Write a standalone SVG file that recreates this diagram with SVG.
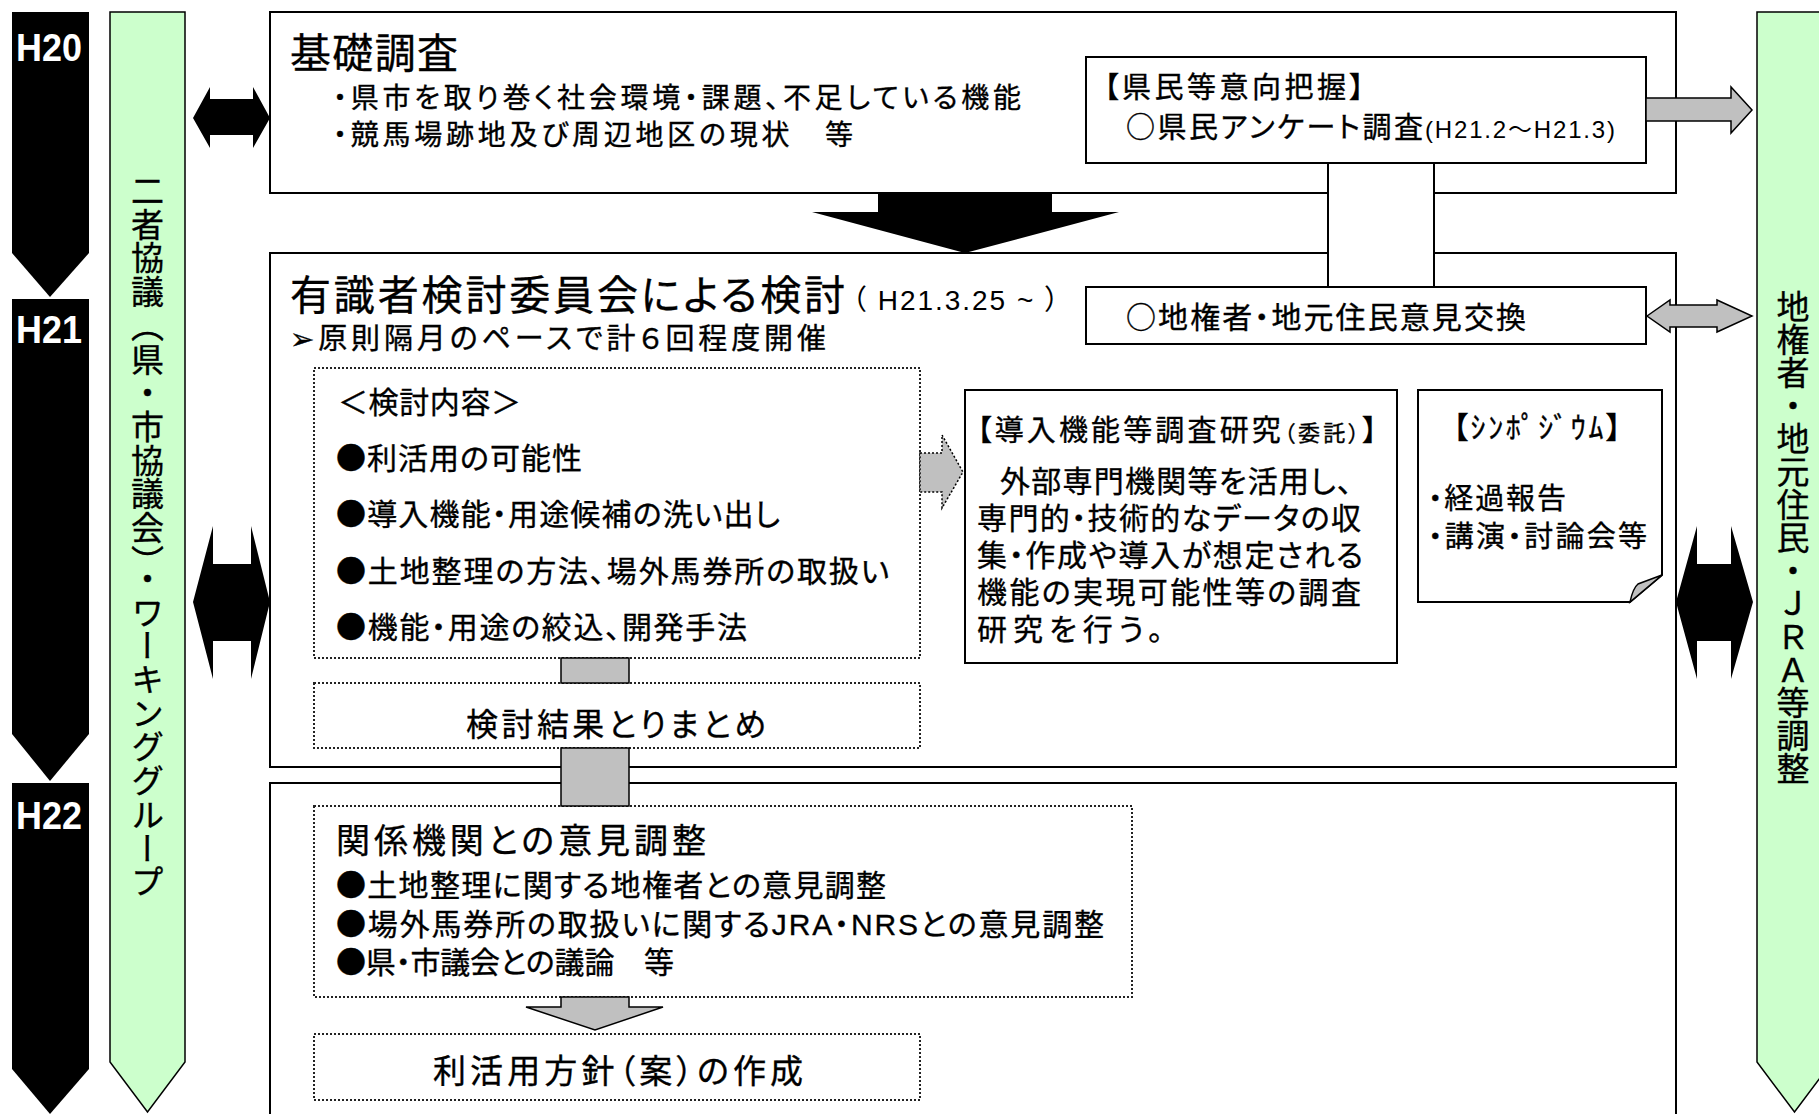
<svg xmlns="http://www.w3.org/2000/svg" width="1819" height="1114" viewBox="0 0 1819 1114">
<style>
.jp{font-family:"Noto Sans CJK JP","DejaVu Sans",sans-serif;fill:#000;stroke:#000;stroke-width:0.35;font-feature-settings:"palt" 1}
.lat{font-family:"Liberation Sans",Arial,"Noto Sans CJK JP",sans-serif;fill:#000;font-feature-settings:"palt" 1}
.box{fill:#fff;stroke:#000;stroke-width:2}
.dot{fill:#fff;stroke:#222;stroke-width:2;stroke-dasharray:2 2}
.blk{fill:#000;stroke:none}
.gry{fill:#c0c0c0;stroke:#000;stroke-width:1.5}
.grn{fill:#ccffcc;stroke:#000;stroke-width:1.5}
.yr{font-family:"Liberation Sans",Arial,sans-serif;font-weight:bold;fill:#fff;font-size:38px}
.vt{font-family:"Noto Sans CJK JP",sans-serif;fill:#000;stroke:#000;stroke-width:0.35;writing-mode:vertical-rl;text-orientation:mixed}
</style>
<rect width="1819" height="1114" fill="#fff"/>

<g id="year-bars">
  <polygon class="blk" points="12,12 89,12 89,253 50,297 12,253"/>
  <polygon class="blk" points="12,299 89,299 89,734 50,781 12,734"/>
  <polygon class="blk" points="12,783 89,783 89,1069 50,1114 12,1069"/>
  <text class="yr" x="16" y="61" textLength="66" lengthAdjust="spacingAndGlyphs">H20</text>
  <text class="yr" x="16" y="343" textLength="66" lengthAdjust="spacingAndGlyphs">H21</text>
  <text class="yr" x="16" y="829" textLength="66" lengthAdjust="spacingAndGlyphs">H22</text>
</g>

<g id="left-band">
  <polygon class="grn" points="110,12 185,12 185,1062 147.5,1112 110,1062"/>
  <text class="vt" x="147.5" y="174" font-size="33" letter-spacing="0.7">二者協議（県・市協議会）・ワーキンググループ</text>
</g>

<g id="right-band">
  <polygon class="grn" points="1757,12 1832,12 1832,1062 1794.5,1112 1757,1062"/>
  <text class="vt" x="1793" y="290" font-size="33">地権者・地元住民・ＪＲＡ等調整</text>
</g>

<g id="n-kiso">
  <rect class="box" x="270" y="12" width="1406" height="181"/>
  <text class="jp" x="290" y="68" font-size="41" textLength="168">基礎調査</text>
  <text class="jp" x="333" y="108" font-size="28" textLength="688">・県市を取り巻く社会環境・課題、不足している機能</text>
  <text class="jp" x="333" y="145" font-size="28" textLength="520">・競馬場跡地及び周辺地区の現状　等</text>
</g>

<g id="n-iinkai">
  <rect class="box" x="270" y="253" width="1406" height="514"/>
  <text class="jp" x="290" y="310" font-size="41" textLength="555">有識者検討委員会による検討</text>
  <text class="lat" x="852" y="310" font-size="28" textLength="207">（ H21.3.25 ~ ）</text>
  <text class="jp" x="290" y="349" font-size="29" textLength="536">➢原則隔月のペースで計６回程度開催</text>
</g>

<g id="n-chousei">
  <rect class="box" x="270" y="783" width="1406" height="340"/>
</g>

<g id="link-white">
  <rect x="1329" y="164" width="104" height="122" fill="#fff"/>
  <line x1="1328" y1="163" x2="1328" y2="287" stroke="#000" stroke-width="2"/>
  <line x1="1434" y1="163" x2="1434" y2="287" stroke="#000" stroke-width="2"/>
</g>

<g id="n-survey">
  <rect class="box" x="1086" y="57" width="560" height="106"/>
  <text class="jp" x="1104" y="98" font-size="29" textLength="260">【県民等意向把握】</text>
  <text class="jp" x="1126" y="138" font-size="29" textLength="297">○県民アンケート調査</text>
  <text class="lat" x="1425" y="138" font-size="24" textLength="190">(H21.2～H21.3)</text>
</g>

<g id="n-jiken">
  <rect class="box" x="1086" y="287" width="560" height="57"/>
  <text class="jp" x="1126" y="328" font-size="30" textLength="400">○地権者・地元住民意見交換</text>
</g>

<g id="n-naiyou">
  <rect class="dot" x="314" y="368" width="606" height="290"/>
  <g font-size="30">
    <text class="jp" x="338" y="413" textLength="183">＜検討内容＞</text>
    <text class="jp" x="336" y="469" textLength="246">●利活用の可能性</text>
    <text class="jp" x="336" y="525" textLength="444">●導入機能・用途候補の洗い出し</text>
    <text class="jp" x="336" y="582" textLength="553">●土地整理の方法、場外馬券所の取扱い</text>
    <text class="jp" x="336" y="638" textLength="411">●機能・用途の絞込、開発手法</text>
  </g>
</g>

<g id="n-matome">
  <rect class="dot" x="314" y="683" width="606" height="65"/>
  <text class="jp" x="466" y="736" font-size="32" textLength="300">検討結果とりまとめ</text>
</g>

<g id="n-dounyu">
  <rect class="box" x="965" y="390" width="432" height="273" stroke-width="3"/>
  <text class="jp" x="977" y="441" font-size="29" textLength="400">【導入機能等調査研究<tspan font-size="22">（委託）</tspan>】</text>
  <g font-size="30">
    <text class="jp" x="1000" y="492" textLength="352">外部専門機関等を活用し、</text>
    <text class="jp" x="977" y="529" textLength="384">専門的・技術的なデータの収</text>
    <text class="jp" x="977" y="566" textLength="386">集・作成や導入が想定される</text>
    <text class="jp" x="977" y="603" textLength="384">機能の実現可能性等の調査</text>
    <text class="jp" x="977" y="640" textLength="186">研究を行う。</text>
  </g>
</g>

<g id="n-sympo">
  <path class="box" d="M1418,390 H1662 V575 L1630,602 H1418 Z"/>
  <path d="M1630,602 Q1633,588 1638,584 L1662,575 Z" class="gry"/>
  <text class="jp" x="1453" y="438" font-size="30" textLength="168">【ｼﾝﾎﾟｼﾞｳﾑ】</text>
  <text class="jp" x="1428" y="509" font-size="29" textLength="138">・経過報告</text>
  <text class="jp" x="1428" y="547" font-size="29" textLength="219">・講演・討論会等</text>
</g>

<g id="n-kankei">
  <rect class="dot" x="314" y="806" width="818" height="191"/>
  <text class="jp" x="336" y="853" font-size="34" textLength="370">関係機関との意見調整</text>
  <g font-size="30">
    <text class="jp" x="336" y="896" textLength="550">●土地整理に関する地権者との意見調整</text>
    <text class="jp" x="336" y="935" textLength="768">●場外馬券所の取扱いに関する<tspan font-family="Liberation Sans, Arial, sans-serif">JRA</tspan>・<tspan font-family="Liberation Sans, Arial, sans-serif">NRS</tspan>との意見調整</text>
    <text class="jp" x="336" y="973" textLength="338">●県・市議会との議論　等</text>
  </g>
</g>

<g id="n-houshin">
  <rect class="dot" x="314" y="1034" width="606" height="66"/>
  <text class="jp" x="433" y="1083" font-size="33" textLength="370">利活用方針（案）の作成</text>
</g>

<g id="connectors">
  <polygon class="blk" points="878,193 1052,193 1052,212 1119,212 965,253 812,212 878,212"/>
  <polygon class="blk" points="193,118 210,87 210,99 253,99 253,87 270,118 253,148 253,135 210,135 210,148"/>
  <polygon class="blk" points="193,602 213,526 213,564 251,564 251,526 270,602 251,679 251,641 213,641 213,679"/>
  <polygon class="blk" points="1676,602 1697,526 1697,564 1731,564 1731,526 1753,602 1731,679 1731,641 1697,641 1697,679"/>
  <polygon class="gry" points="1646,98 1731,98 1731,87 1752,110 1731,133 1731,121 1646,121"/>
  <polygon class="gry" points="1647,316 1670,300 1670,305 1717,305 1717,300 1752,316 1717,332 1717,327 1670,327 1670,332"/>
  <polygon class="gry" stroke-dasharray="2 2" points="920,453 942,453 942,435 963,472 942,508 942,492 920,492"/>
  <rect class="gry" x="561" y="658" width="68" height="25"/>
  <rect class="gry" x="561" y="748" width="68" height="58"/>
  <polygon class="gry" points="561,997 629,997 629,1007 663,1007 595,1030 526,1007 561,1007"/>
</g>
</svg>
